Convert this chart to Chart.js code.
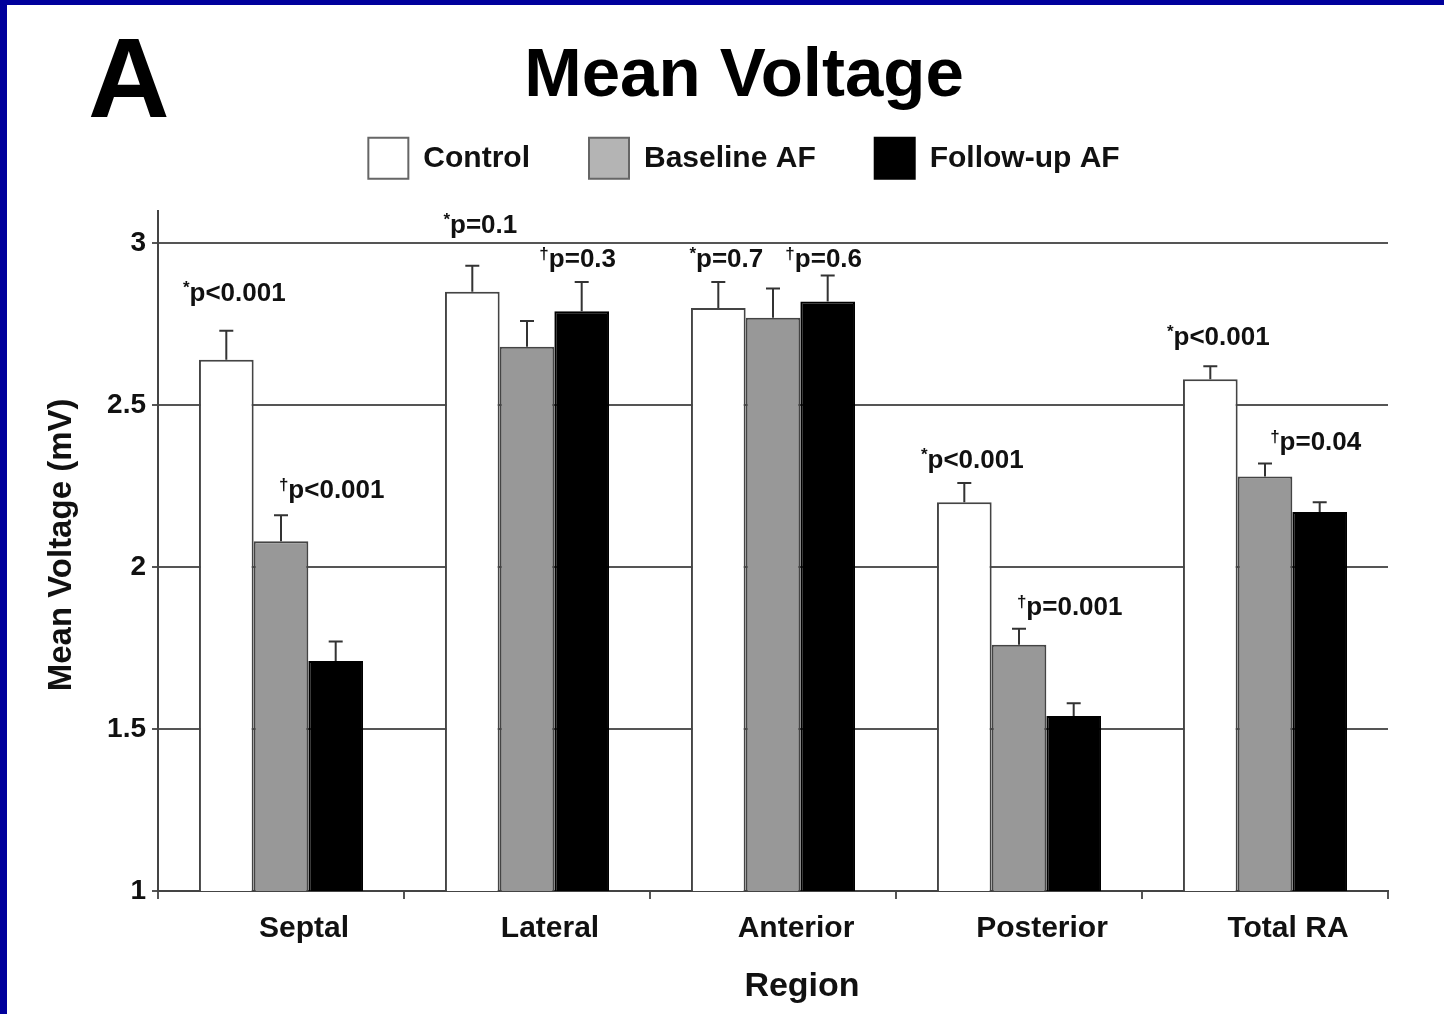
<!DOCTYPE html>
<html>
<head>
<meta charset="utf-8">
<script src="https://cdn.jsdelivr.net/npm/chart.js@4.4.0/dist/chart.umd.min.js"></script>
<style>
  html, body { margin: 0; padding: 0; background: #00009c; }
  #frame { position: absolute; left: 7px; top: 5px; width: 1437px; height: 1009px; background: #fff; }
</style>
</head>
<body>
<div id="frame"><canvas id="chart" width="1437" height="1009"></canvas></div>
<script>
// data
const regions = ["Septal", "Lateral", "Anterior", "Posterior", "Total RA"];
const seriesNames = ["Control", "Baseline AF", "Follow-up AF"];
const controlMean = [2.64, 2.85, 2.80, 2.20, 2.58];
const controlErr = [0.09, 0.08, 0.08, 0.06, 0.04];
const baselineMean = [2.08, 2.68, 2.77, 1.76, 2.28];
const baselineErr = [0.08, 0.08, 0.09, 0.05, 0.04];
const followupMean = [1.71, 2.79, 2.82, 1.54, 2.17];
const followupErr = [0.06, 0.09, 0.08, 0.04, 0.03];
const yTicks = [1, 1.5, 2, 2.5, 3];

// p-value labels: * = control vs baseline AF, † = baseline vs follow-up AF
const starText = ["p<0.001", "p=0.1", "p=0.7", "p<0.001", "p<0.001"];
const starAt = [2.85, 3.06, 2.955, 2.335, 2.715];
const daggerText = ["p<0.001", "p=0.3", "p=0.6", "p=0.001", "p=0.04"];
const daggerAt = [2.24, 2.955, 2.955, 1.88, 2.39];

const errors = [controlErr, baselineErr, followupErr];
const FONT = "'Liberation Sans', Arial, Helvetica, sans-serif";

const errorBars = {
    id: "errorBars",
    afterDatasetsDraw(chart) {
        const ctx = chart.ctx;
        const y = chart.scales.y;
        ctx.save();
        ctx.strokeStyle = "#333";
        ctx.lineWidth = 2;
        chart.data.datasets.forEach((ds, d) => {
            chart.getDatasetMeta(d).data.forEach((bar, i) => {
                const top = y.getPixelForValue(ds.data[i] + errors[d][i]);
                ctx.beginPath();
                ctx.moveTo(bar.x, bar.y);
                ctx.lineTo(bar.x, top);
                ctx.moveTo(bar.x - 7, top);
                ctx.lineTo(bar.x + 7, top);
                ctx.stroke();
            });
        });
        ctx.restore();
    }
};

function markedLabel(ctx, mark, text, cx, cy) {
    ctx.font = "bold 17px " + FONT;
    const mw = ctx.measureText(mark).width;
    ctx.font = "bold 26px " + FONT;
    const tw = ctx.measureText(text).width;
    const x0 = cx - (mw + tw) / 2;
    const base = cy + 9;
    ctx.textAlign = "left";
    ctx.textBaseline = "alphabetic";
    ctx.fillText(text, x0 + mw, base);
    ctx.font = "bold 17px " + FONT;
    ctx.fillText(mark, x0, base - 8);
}

const extraText = {
    id: "extraText",
    afterDraw(chart) {
        const ctx = chart.ctx;
        const area = chart.chartArea;
        const y = chart.scales.y;
        ctx.save();
        ctx.fillStyle = "#111";
        regions.forEach((r, i) => {
            const c = chart.getDatasetMeta(0).data[i];
            const f = chart.getDatasetMeta(2).data[i];
            markedLabel(ctx, "*", starText[i], c.x + 8, y.getPixelForValue(starAt[i]));
            markedLabel(ctx, "\u2020", daggerText[i], f.x - 4, y.getPixelForValue(daggerAt[i]));
        });

        // panel letter
        ctx.fillStyle = "#000";
        ctx.font = "bold 113px " + FONT;
        ctx.textAlign = "left";
        ctx.textBaseline = "alphabetic";
        ctx.fillText("A", 81, 112);

        // axis titles
        ctx.fillStyle = "#111";
        ctx.font = "bold 34px " + FONT;
        ctx.textAlign = "center";
        ctx.textBaseline = "middle";
        ctx.fillText("Region", (area.left + area.right) / 2 + 29, area.bottom + 96);
        ctx.save();
        ctx.translate(55, (area.top + area.bottom) / 2 - 6);
        ctx.rotate(-Math.PI / 2);
        ctx.font = "bold 33px " + FONT;
        ctx.fillText("Mean Voltage (mV)", 0, 0);
        ctx.restore();
        ctx.restore();
    }
};

new Chart(document.getElementById("chart"), {
    type: "bar",
    data: {
        labels: regions,
        datasets: [
            { label: seriesNames[0], data: controlMean, backgroundColor: "#ffffff", borderColor: "#444", borderWidth: 2 },
            { label: seriesNames[1], data: baselineMean, backgroundColor: "#989898", borderColor: "#444", borderWidth: 2 },
            { label: seriesNames[2], data: followupMean, backgroundColor: "#000000", borderColor: "#000", borderWidth: 2 }
        ]
    },
    options: {
        responsive: false,
        animation: false,
        layout: { padding: { left: 93, right: 56, top: 0, bottom: 55 } },
        datasets: { bar: { categoryPercentage: 0.667, barPercentage: 1.0 } },
        plugins: {
            tooltip: { enabled: false },
            title: {
                display: true,
                text: "Mean Voltage",
                color: "#000",
                font: { family: FONT, size: 69, weight: "bold" },
                padding: { top: 31, bottom: -40 }
            },
            legend: {
                position: "top",
                labels: {
                    color: "#111",
                    font: { family: FONT, size: 30, weight: "bold" },
                    boxWidth: 40,
                    boxHeight: 41,
                    padding: 59,
                    generateLabels(chart) {
                        const items = Chart.defaults.plugins.legend.labels.generateLabels(chart);
                        items[1].fillStyle = "#b4b4b4";
                        items[1].strokeStyle = "#666";
                        items[0].strokeStyle = "#666";
                        return items;
                    }
                }
            }
        },
        scales: {
            x: {
                grid: { drawOnChartArea: false, drawTicks: true, tickLength: 8, color: "#555", lineWidth: 2 },
                border: { color: "#444", width: 2 },
                ticks: {
                    color: "#111",
                    padding: 12,
                    labelOffset: 23,
                    font: { family: FONT, size: 30, weight: "bold" }
                }
            },
            // empty spacer axis: keeps a gap between the legend and the plot
            gap: {
                type: "category",
                position: "top",
                grid: { display: false },
                border: { display: false },
                ticks: { display: false },
                afterFit(scale) {
                    scale.height = 22;
                }
            },
            y: {
                min: 1,
                max: 3.1,
                afterBuildTicks(scale) {
                    scale.ticks = yTicks.map(v => ({ value: v }));
                },
                afterFit(scale) {
                    scale.width = 58;
                },
                grid: { color: "#555", lineWidth: 2, tickLength: 6 },
                border: { color: "#444", width: 2 },
                ticks: {
                    color: "#111",
                    padding: 6,
                    font: { family: FONT, size: 28, weight: "bold" },
                    callback: v => String(v)
                }
            }
        }
    },
    plugins: [errorBars, extraText]
});
</script>
</body>
</html>
